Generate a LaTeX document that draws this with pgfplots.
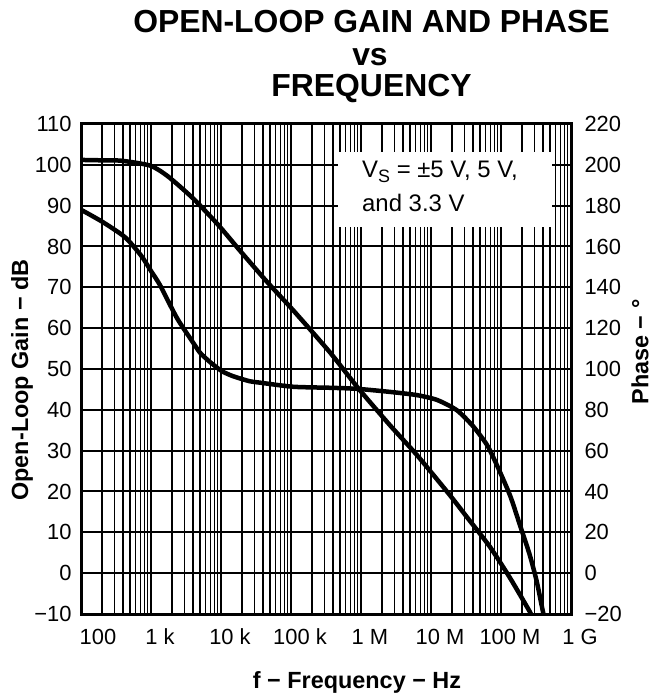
\documentclass[border=0pt]{standalone}
\usepackage{pgfplots}
\pgfplotsset{compat=1.18}
\usepackage{fontspec}
\setmainfont{Liberation Sans}
\newcommand{\tickfont}{\fontsize{22}{26}\selectfont}
\newcommand{\legfont}{\fontsize{24}{28}\selectfont}
\newcommand{\labfont}{\fontsize{23.5}{28}\selectfont\bfseries}
\newcommand{\titfont}{\fontsize{32}{36}\selectfont\bfseries}
\begin{document}
\begin{tikzpicture}
\useasboundingbox (-81bp,-83bp) rectangle (579bp,614bp);
\begin{axis}[
  at={(0,0)}, anchor=south west,
  scale only axis, width=490bp, height=490bp,
  xmode=log, xmin=1e2, xmax=1e9, ymin=-10, ymax=110,
  xtick={1e2,1e3,1e4,1e5,1e6,1e7,1e8,1e9},
  xticklabels={\hspace*{16bp}100,1 k,10 k,100 k,1 M,10 M,100 M,1 G},
  minor xtick={2e2,3e2,4e2,5e2,6e2,7e2,8e2,9e2,
               2e3,3e3,4e3,5e3,6e3,7e3,8e3,9e3,
               2e4,3e4,4e4,5e4,6e4,7e4,8e4,9e4,
               2e5,3e5,4e5,5e5,6e5,7e5,8e5,9e5,
               2e6,3e6,4e6,5e6,6e6,7e6,8e6,9e6,
               2e7,3e7,4e7,5e7,6e7,7e7,8e7,9e7,
               2e8,3e8,4e8,5e8,6e8,7e8,8e8,9e8},
  ytick={-10,0,10,20,30,40,50,60,70,80,90,100,110},
  yticklabels={−10,0,10,20,30,40,50,60,70,80,90,100,110},
  minor y tick num=0,
  xmajorgrids, xminorgrids, ymajorgrids,
  major grid style={black, line width=2bp},
  minor grid style={black, line width=1.3bp},
  major tick length=0pt, minor tick length=0pt,
  axis line style={line width=3bp},
  ticklabel style={font=\tickfont},
  yticklabel style={xshift=-6bp},
  xticklabel style={anchor=north, text height=16bp, text depth=0pt, xshift=9bp, yshift=-11bp},
  clip=true,
]
\addplot[black, line width=4.5bp, smooth, tension=0.4, line join=round] coordinates {
  (1e2,101.2) (2.04e2,101.1) (3.8e2,101) (9.77e2,99.8) (1.738e3,97.2)
  (3.981e3,91.8) (9.12e3,85.3) (1.862e4,79) (4.571e4,71.3) (1.072e5,64.4)
  (3.631e5,54) (9.12e5,45.3) (2.57e6,36.3) (6.31e6,28.9) (1.862e7,19.1)
  (3.236e7,13.8) (6.918e7,6.5) (1.349e8,-1.2) (2.57e8,-9.4) (2.75e8,-10.6)
};
\end{axis}
\begin{axis}[
  at={(0,0)}, anchor=south west,
  scale only axis, width=490bp, height=490bp,
  xmode=log, xmin=1e2, xmax=1e9, ymin=-20, ymax=220,
  hide x axis,
  axis y line*=right,
  y axis line style={draw=none},
  ytick={-20,0,20,40,60,80,100,120,140,160,180,200,220},
  yticklabels={−20,0,20,40,60,80,100,120,140,160,180,200,220},
  minor y tick num=0,
  major tick length=0pt,
  ticklabel style={font=\tickfont},
  yticklabel style={xshift=10bp},
  clip=true,
]
\addplot[black, line width=4.5bp, smooth, tension=0.4, line join=round] coordinates {
  (1e2,178) (2.04e2,172) (4.27e2,164.5) (7.24e2,155.5) (1e3,148)
  (1.349e3,141) (2.344e3,125) (3.981e3,113) (5.012e3,108) (6.918e3,103.5)
  (1.0233e4,99) (1.4791e4,96.5) (2.5704e4,94) (3.6308e4,93.3) (1.07152e5,91.3)
  (3.63078e5,90.8) (8.70964e5,90.3) (2.57e6,88.8) (6.31e6,87.2) (1.23e7,84.8)
  (2.344e7,79.8) (3.981e7,72) (6.31e7,62.8) (8.71e7,53) (1.349e8,38)
  (1.862e8,23.6) (2.57e8,9) (3.236e8,-4) (3.981e8,-19) (4.169e8,-22)
};
\end{axis}
% white legend panel
\fill[white] (257bp,387bp) rectangle (471bp,462bp);
\node[anchor=base west, inner sep=0pt, font=\legfont] at (281bp,436bp)
  {V\raisebox{-5bp}{\fontsize{18}{20}\selectfont S} = ±5 V, 5 V,};
\node[anchor=base west, inner sep=0pt, font=\legfont] at (281bp,402bp)
  {and 3.3 V};
% titles and labels
\node[anchor=base, inner sep=0pt, font=\titfont] at (290.5bp,581bp) {OPEN-LOOP GAIN AND PHASE};
\node[anchor=base, inner sep=0pt, font=\titfont] at (289bp,548bp) {vs};
\node[anchor=base, inner sep=0pt, font=\titfont] at (290.5bp,517bp) {FREQUENCY};
\node[anchor=base, inner sep=0pt, font=\labfont] at (276bp,-74bp) {f − Frequency − Hz};
\node[rotate=90, inner sep=0pt, font=\labfont] at (-59bp,234bp) {Open-Loop Gain − dB};
\node[rotate=90, inner sep=0pt, font=\labfont] at (559bp,262bp) {Phase − °};
\end{tikzpicture}
\end{document}
